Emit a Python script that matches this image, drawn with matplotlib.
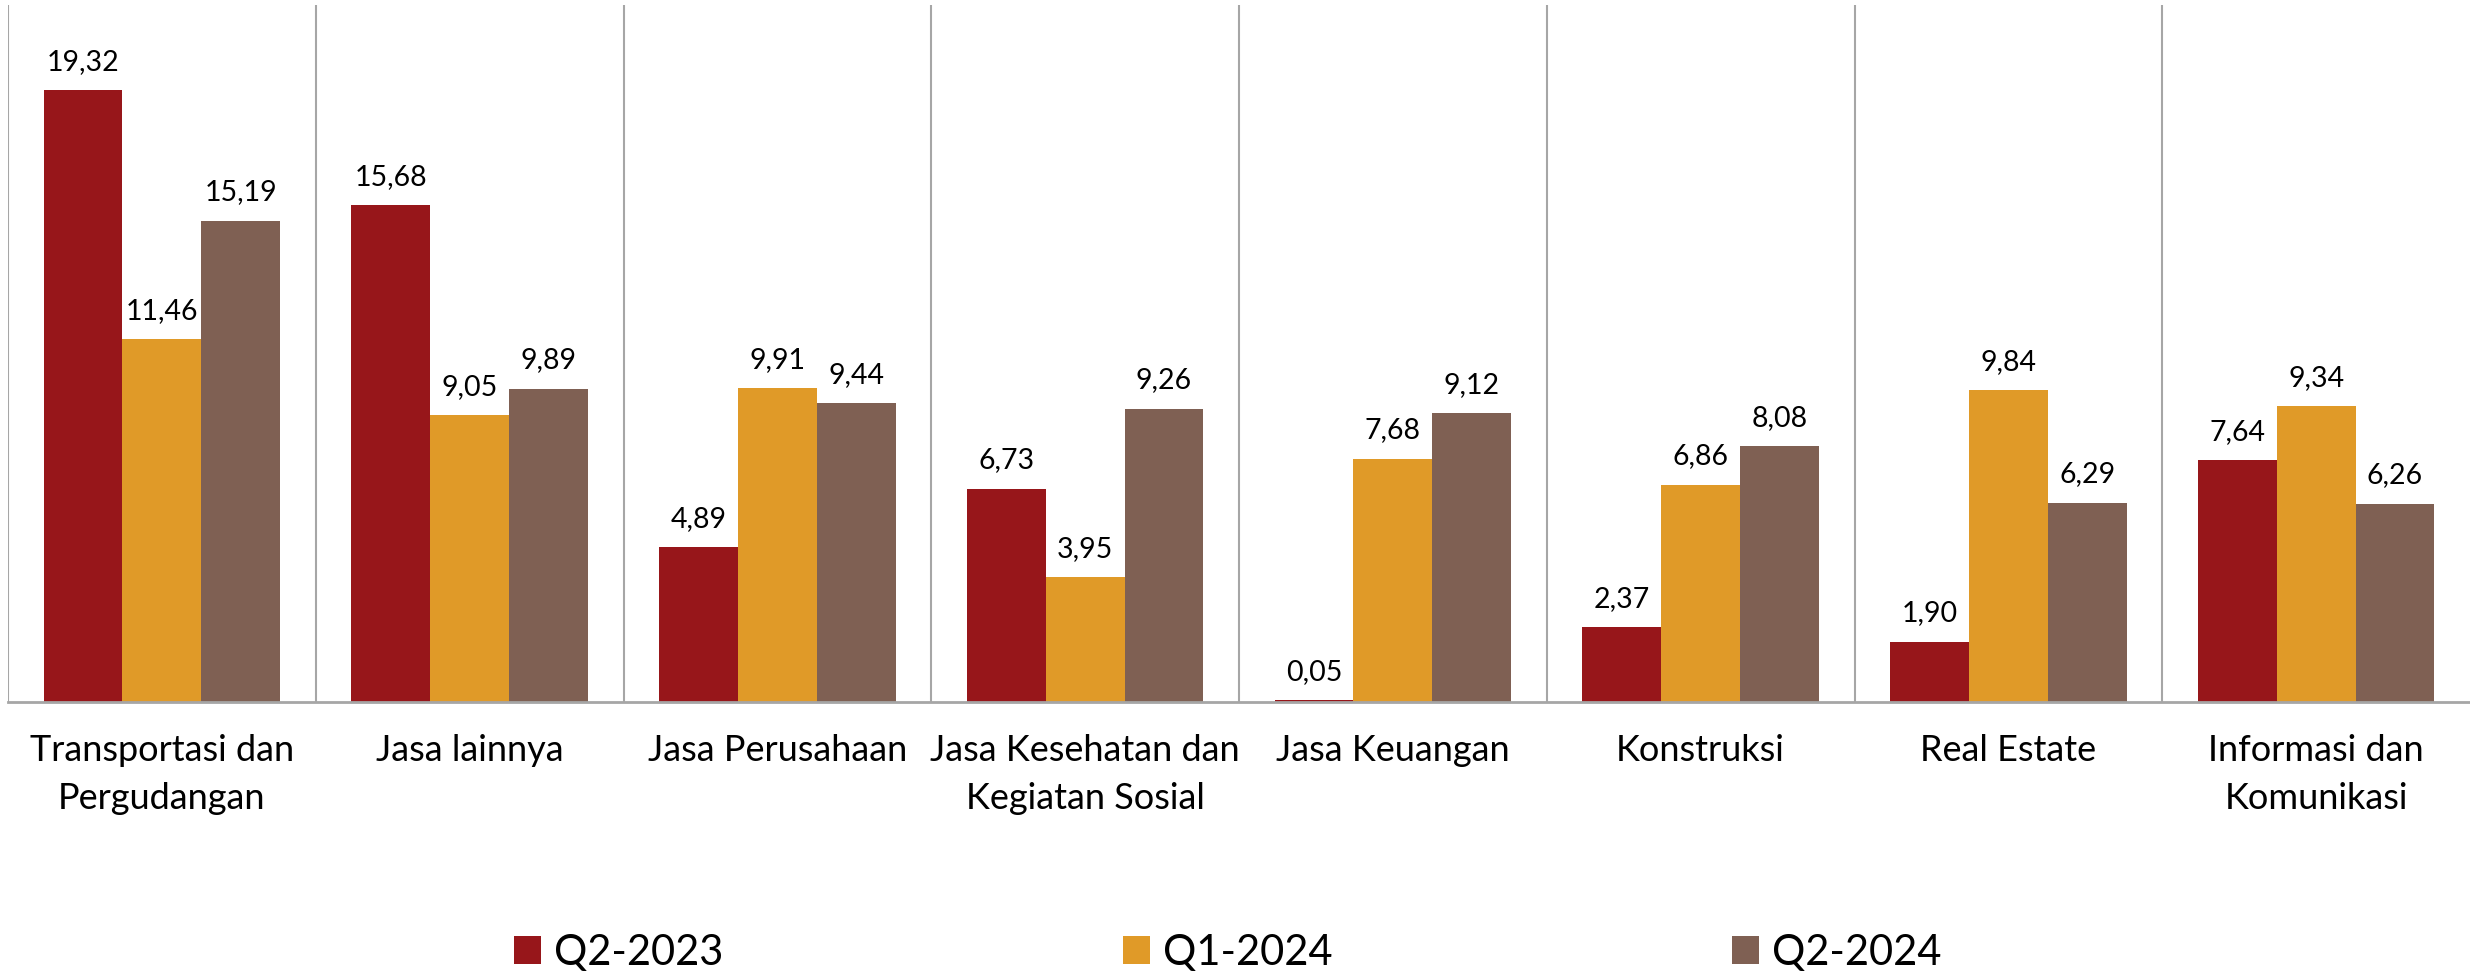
import numpy as np
import matplotlib
matplotlib.use('Agg')
import matplotlib.pyplot as plt
from matplotlib.patches import Patch

plt.rcParams['font.family'] = ['Lato', 'DejaVu Sans']

categories = ['Transportasi dan\nPergudangan', 'Jasa lainnya', 'Jasa Perusahaan',
              'Jasa Kesehatan dan\nKegiatan Sosial', 'Jasa Keuangan', 'Konstruksi',
              'Real Estate', 'Informasi dan\nKomunikasi']
series_names = ['Q2-2023', 'Q1-2024', 'Q2-2024']
q2_2023 = [19.32, 15.68, 4.89, 6.73, 0.05, 2.37, 1.90, 7.64]
q1_2024 = [11.46, 9.05, 9.91, 3.95, 7.68, 6.86, 9.84, 9.34]
q2_2024 = [15.19, 9.89, 9.44, 9.26, 9.12, 8.08, 6.29, 6.26]

colors = ['#97161A', '#E09A28', '#7F6053']
grid_color = '#A6A6A6'
bar_width = 0.256
value_fontsize = 20.5
cat_fontsize = 26
legend_fontsize = 30

W, H = 2470, 971
fig = plt.figure(figsize=(W / 100, H / 100), dpi=100)
ax = fig.add_axes([8 / W, (H - 702) / H, (W - 8) / W, (702 - 5) / H])

x = np.arange(len(categories))
for i, vals in enumerate([q2_2023, q1_2024, q2_2024]):
    bars = ax.bar(x + (i - 1) * bar_width, vals, width=bar_width, color=colors[i],
                  label=series_names[i], zorder=3)
    for b, v in zip(bars, vals):
        ax.annotate(f'{v:.2f}'.replace('.', ','),
                    (b.get_x() + b.get_width() / 2, b.get_height()),
                    xytext=(0, 11), textcoords='offset points',
                    ha='center', va='bottom', fontsize=value_fontsize, color='black')

# separators between categories
for s in np.arange(-0.5, len(categories) - 0.5, 1.0):
    ax.axvline(s, color=grid_color, linewidth=1.5, zorder=1)

ax.set_xlim(-0.5, len(categories) - 0.5)
ax.set_ylim(0, 22)
ax.set_yticks([])
ax.set_xticks(x)
ax.set_xticklabels(categories, fontsize=cat_fontsize, linespacing=1.55)
ax.tick_params(axis='x', length=0, pad=23)
for side in ['top', 'right', 'left']:
    ax.spines[side].set_visible(False)
ax.spines['bottom'].set_color(grid_color)
ax.spines['bottom'].set_linewidth(2)
ax.spines['bottom'].set_zorder(4)

handles = [Patch(facecolor=c, edgecolor='none') for c in colors]
fig.legend(handles, series_names, loc='center', bbox_to_anchor=(0.497, 1 - 953 / H),
           ncol=3, frameon=False, fontsize=legend_fontsize,
           handlelength=0.65, handleheight=0.65, handletextpad=0.3,
           columnspacing=9.6, borderpad=0)

fig.savefig('out.png', dpi=100)
